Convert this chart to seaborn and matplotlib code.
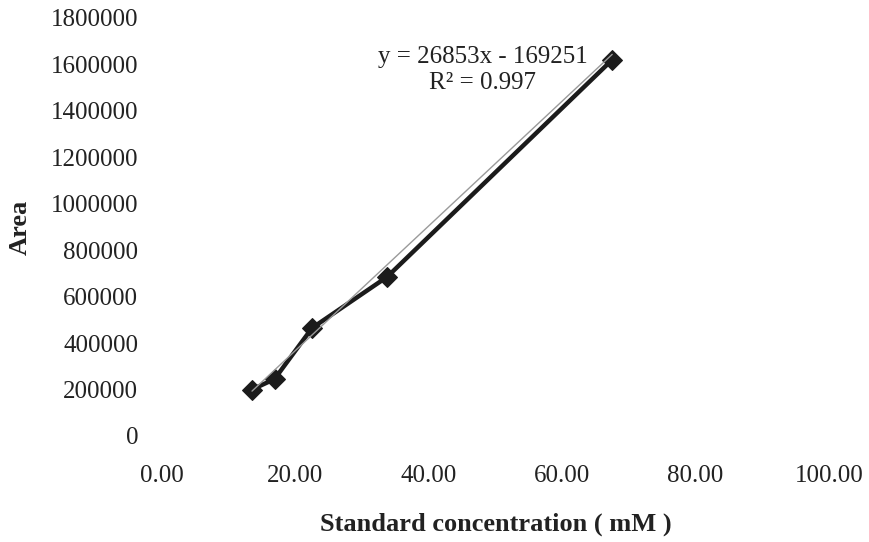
import matplotlib
matplotlib.use("Agg")
import matplotlib.pyplot as plt
import numpy as np
import pandas as pd
import seaborn as sns

# Calibration standards
concentration = [13.5, 16.875, 22.5, 33.75, 67.5]
area = [200000, 245000, 465000, 685000, 1620000]

# Linear fit shown on the chart
slope = 26853
intercept = -169251
r_squared = 0.997

x_ticks = [0, 20, 40, 60, 80, 100]
x_tick_labels = ["0.00", "20.00", "40.00", "60.00", "80.00", "100.00"]
y_ticks = [0, 200000, 400000, 600000, 800000, 1000000, 1200000, 1400000, 1600000, 1800000]

sns.set_theme(style="white")
plt.rcParams["font.family"] = ["Liberation Serif", "DejaVu Serif"]

df = pd.DataFrame({"conc": concentration, "area": area})
fit_x = np.array([concentration[0], concentration[-1]])
fit_df = pd.DataFrame({"conc": fit_x, "area": slope * fit_x + intercept})

fig = plt.figure(figsize=(8.69, 5.42), dpi=100)
ax = fig.add_axes([0.1864, 0.1956, 0.7675, 0.7712])

sns.lineplot(data=df, x="conc", y="area", ax=ax, color="#1b1b1b", linewidth=3.2,
             marker="D", markersize=10, markeredgecolor="#1b1b1b", zorder=3)
sns.lineplot(data=fit_df, x="conc", y="area", ax=ax, color="#9a9a9a", linewidth=1.0, zorder=4)

ax.set_xlim(0, 100)
ax.set_ylim(0, 1800000)
ax.set_xticks(x_ticks)
ax.set_xticklabels(x_tick_labels)
ax.set_yticks(y_ticks)
ax.set_yticklabels([str(v) for v in y_ticks])
ax.tick_params(axis="both", length=0, labelsize=18, colors="#222222")
ax.tick_params(axis="x", pad=21)
ax.tick_params(axis="y", pad=17)
for s in ax.spines.values():
    s.set_visible(False)
ax.grid(False)

ax.set_xlabel("Standard concentration ( mM )", fontsize=19, fontweight="bold",
              color="#222222", labelpad=18)
ax.set_ylabel("Area", fontsize=19, fontweight="bold", color="#222222", labelpad=14)

ax.text(48.1, 1576000, f"y = {slope}x - {abs(intercept)}\nR² = {r_squared}",
        ha="center", va="center", fontsize=18, color="#222222", linespacing=1.2)

fig.savefig("out.png", dpi=100, facecolor="white")
